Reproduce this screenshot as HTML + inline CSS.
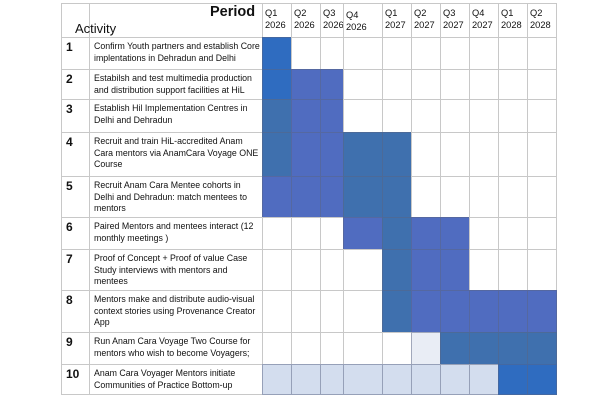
<!DOCTYPE html>
<html><head><meta charset="utf-8">
<style>
body{margin:0;width:600px;height:400px;background:#fff;position:relative;overflow:hidden;font-family:"Liberation Sans",sans-serif;color:#111}
.c{position:absolute;box-sizing:border-box;border:1px solid #c8c8c8}
.t{position:absolute;font-size:8.8px;line-height:11.5px}
.n{position:absolute;font-size:12px;font-weight:bold}
.h{position:absolute;font-size:9.3px;line-height:12px;text-align:left}
</style></head><body>
<div id="chart"></div>
<script>
const periods=["Q1 2026","Q2 2026","Q3 2026","Q4 2026","Q1 2027","Q2 2027","Q3 2027","Q4 2027","Q1 2028","Q2 2028"];
const activities=[
"Confirm Youth partners and establish Core implentations in Dehradun and Delhi",
"Estabilsh and test multimedia production and distribution support facilities  at HiL",
"Establish Hil Implementation Centres in Delhi and Dehradun",
"Recruit and train  HiL-accredited Anam Cara mentors via AnamCara Voyage ONE Course",
"Recruit Anam Cara Mentee cohorts in Delhi and Dehradun: match mentees to mentors",
"Paired Mentors and mentees interact (12 monthly meetings )",
"Proof of Concept + Proof of value Case Study interviews with mentors and mentees",
"Mentors make  and distribute audio-visual context stories using  Provenance Creator App",
"Run Anam Cara  Voyage Two Course for mentors who wish to become Voyagers;",
"Anam Cara Voyager Mentors initiate Communities of Practice Bottom-up"];
// per-cell codes: b=bright blue, p=purple-blue, s=steel blue, l=light, w=very light, .=empty
const schedule=[
"b.........",
"bpp.......",
"spp.......",
"sppss.....",
"pppss.....",
"...pspp...",
"....spp...",
"....sppppp",
".....wssss",
"llllllllbb"];
const colorMap={b:"#2f6cc0",p:"#506cc0",s:"#3f70ae",l:"#d3ddee",w:"#e9edf5"};
const colX=[262,291,320,343,382,411,440,469,498,527,556];
const rowY=[37,69,99,132,176,217,249,290,332,364,394];
const root=document.getElementById('chart');
function add(cls,x,y,w,h,html,name){const d=document.createElement('div');d.className=cls;d.style.left=x+'px';d.style.top=y+'px';if(w!=null)d.style.width=w+'px';if(h!=null)d.style.height=h+'px';if(html!=null)d.innerHTML=html;


root.appendChild(d);return d;}
add('c',61,3,29,35,null,'header-number-cell');
add('c',89,3,174,35,null,'header-activity-cell');
const p=add('n',210,4,null,null,'Period','period-label');p.style.fontSize='14.5px';
const a=add('n',75,21,null,null,'Activity','activity-label');a.style.fontSize='13px';a.style.fontWeight='500';
periods.forEach((s,i)=>{add('c',colX[i],3,colX[i+1]-colX[i]+1,35,null,'period-header-cell');
const parts=s.split(' ');const h=add('h',colX[i]+3,(i===3?9:7),null,null,parts[0]+'<br>'+parts[1],'period-label-'+i);});
activities.forEach((txt,r)=>{const y=rowY[r],h=rowY[r+1]-y+1;
add('c',61,y,29,h,null,'row-number-cell');
add('n',66,y+3,null,null,String(r+1),'row-number-'+(r+1));
add('c',89,y,174,h,null,'activity-cell');
add('t',94,y+4,166,null,txt,'activity-text-'+(r+1));
for(let c=0;c<periods.length;c++){const code=schedule[r][c];
const cell=add('c',colX[c],y,colX[c+1]-colX[c]+1,h,null,code==='.'?'empty-cell':'gantt-bar-r'+(r+1)+'-c'+(c+1));
if(code!=='.'){cell.style.background=colorMap[code];cell.style.borderColor='rgba(90,100,130,0.5)';}}
});
</script>
</body></html>
